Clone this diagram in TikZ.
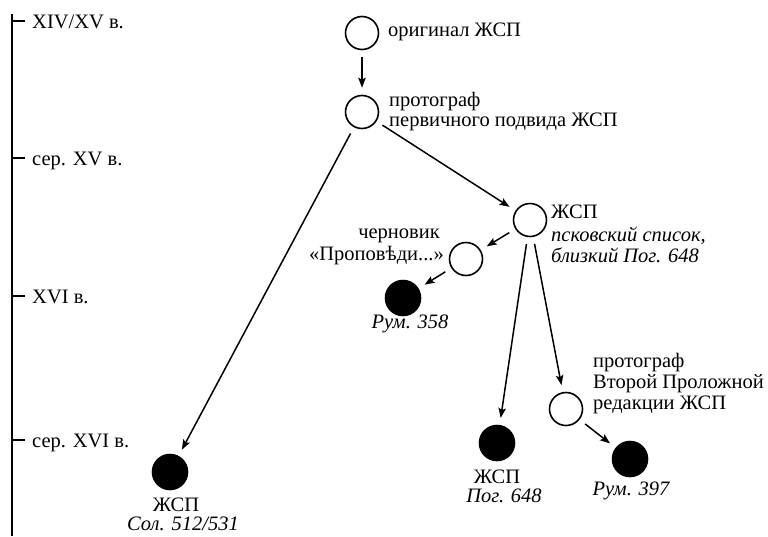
\documentclass[tikz,border=0pt]{standalone}
\usepackage{fontspec}
\setmainfont{Liberation Serif}
\usetikzlibrary{arrows.meta}
\tikzset{
  txt/.style={inner sep=0pt, font=\fontsize{20.5}{23}\selectfont},
  itxt/.style={txt, font=\fontsize{20.5}{23}\selectfont\itshape},
  opencirc/.style={circle, draw, line width=1.6pt, minimum size=33pt, inner sep=0pt, fill=white},
  fullcirc/.style={circle, draw, fill=black, line width=1.6pt, minimum size=35pt, inner sep=0pt},
  conn/.style={line width=1.5pt, -{Stealth[length=10pt,width=7.5pt,inset=2pt]}, shorten <=7pt, shorten >=7pt},
  axis/.style={line width=1.6pt},
}
\begin{document}
\begin{tikzpicture}[x=1pt,y=-1pt]
\useasboundingbox (0,0) rectangle (768,536);
% timeline
\coordinate (axtop) at (12,14);
\coordinate (axbot) at (12,536);
\draw[axis] (axtop) -- (axbot);
\foreach \n/\y/\t in {a/21/{XIV/XV в.}, b/158/{сер. XV в.}, c/296/{XVI в.}, d/440/{сер. XVI в.}}{
  \coordinate (tick\n) at (12,\y);
  \coordinate (tickend\n) at (25,\y);
  \draw[axis] (tick\n) -- (tickend\n);
  \node[txt, anchor=base west] (tlab\n) at (32,\y+7) {\t};
}
% circles
\node[opencirc] (orig) at (362,33) {};
\node[opencirc] (proto) at (362,112) {};
\node[opencirc] (pskov) at (530,220) {};
\node[opencirc] (chern) at (466,259) {};
\node[fullcirc] (rum358) at (403,298) {};
\node[fullcirc] (sol) at (170,472) {};
\node[fullcirc] (pog) at (497,443) {};
\node[opencirc] (proto2) at (566,409) {};
\node[fullcirc] (rum397) at (630,459) {};
% labels
\node[txt, anchor=base west] (lorig) at (388,36) {оригинал ЖСП};
\node[txt, anchor=base west] (lproto1) at (389,106) {протограф};
\node[txt, anchor=base west] (lproto2) at (389,126) {первичного подвида ЖСП};
\node[txt, anchor=base west] (lpskov1) at (551,218) {ЖСП};
\node[itxt, anchor=base west] (lpskov2) at (551,241) {псковский список,};
\node[itxt, anchor=base west] (lpskov3) at (551,262) {близкий Пог. 648};
\node[txt, anchor=base east] (lchern1) at (440,238) {черновик};
\node[txt, anchor=base east] (lchern2) at (444,260) {«Проповѣди...»};
\node[itxt, anchor=base] (lrum358) at (410,328) {Рум. 358};
\node[txt, anchor=base] (lsol1) at (176,511) {ЖСП};
\node[itxt, anchor=base] (lsol2) at (183,530) {Сол. 512/531};
\node[txt, anchor=base] (lpog1) at (497,483) {ЖСП};
\node[itxt, anchor=base] (lpog2) at (504,502) {Пог. 648};
\node[txt, anchor=base west] (lproto2a) at (593,367) {протограф};
\node[txt, anchor=base west] (lproto2b) at (593,388) {Второй Проложной};
\node[txt, anchor=base west] (lproto2c) at (593,409) {редакции ЖСП};
\node[itxt, anchor=base] (lrum397) at (631,495) {Рум. 397};
% connectors
\draw[conn] (orig) -- (proto);
\draw[conn] (proto) -- (sol);
\draw[conn] (proto) -- (pskov);
\draw[conn] (pskov) -- (chern);
\draw[conn] (chern) -- (rum358);
\draw[conn] (pskov) -- (pog);
\draw[conn] (pskov) -- (proto2);
\draw[conn] (proto2) -- (rum397);
\end{tikzpicture}
\end{document}
